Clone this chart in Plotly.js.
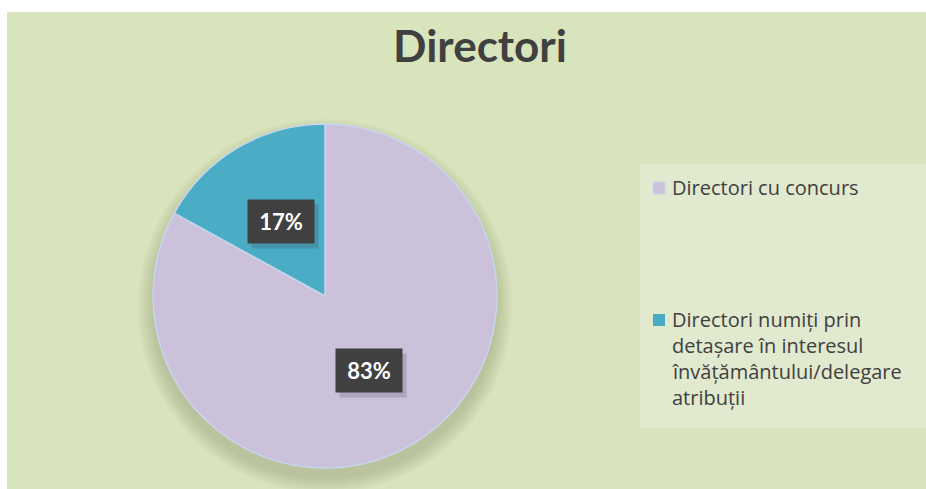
<!DOCTYPE html>
<html>
<head>
<meta charset="utf-8">
<script src="https://cdn.plot.ly/plotly-3.0.1.min.js"></script>
<style>
html,body{margin:0;padding:0;background:#ffffff;}
#chart{width:926px;height:489px;}
</style>
</head>
<body>
<div id="chart"></div>
<script>
// ---- data ----
const categories = ["Directori cu concurs", "Directori numiți prin detașare în interesul învățământului/delegare atribuții"];
const legendLines = [["Directori cu concurs"], ["Directori numiți prin", "detașare în interesul", "învățământului/delegare", "atribuții"]];
const values = [83, 17];
const colors = ["#ccc1da", "#4bacc6"];
const chartTitle = "Directori";

// ---- layout geometry (pixels) ----
const W = 926, H = 489;
const cx = 325, cy = 296, R = 172;
const px = x => x / W;
const py = y => 1 - y / H;

const shapes = [];
// chart background
shapes.push({type:"rect", xref:"paper", yref:"paper", x0:px(7), x1:1, y0:0, y1:py(12),
  fillcolor:"#d8e4bc", line:{width:0}, layer:"below"});
// soft shadow under the pie
for (let i = 0; i < 8; i++) {
  const rr = R + 1 + i * 2;
  const oy = 10;
  shapes.push({type:"circle", xref:"paper", yref:"paper",
    x0:px(cx - rr), x1:px(cx + rr), y0:py(cy + oy + rr), y1:py(cy + oy - rr),
    fillcolor:"rgba(90,110,60,0.03)", line:{width:0}, layer:"below"});
}
// legend box
const lgX0 = 640, lgX1 = 926, lgY0 = 164, lgY1 = 428;
shapes.push({type:"rect", xref:"paper", yref:"paper", x0:px(lgX0), x1:px(lgX1), y0:py(lgY1), y1:py(lgY0),
  fillcolor:"#e1e9cf", line:{width:0}, layer:"below"});

const annotations = [];
// data labels at half radius on each slice's mid angle (clockwise from 12 o'clock)
const total = values.reduce((a, b) => a + b, 0);
let cum = 0;
values.forEach((v, i) => {
  const mid = (cum + v / 2) / total * 2 * Math.PI;
  cum += v;
  const lx = cx + 0.5 * R * Math.sin(mid);
  const ly = cy - 0.5 * R * Math.cos(mid);
  const pct = Math.round(v / total * 100) + "%";
  annotations.push({xref:"paper", yref:"paper", x:px(lx + 4), y:py(ly + 5), text:" ", showarrow:false,
    width:64, height:41, bgcolor:"rgba(60,60,80,0.22)", xanchor:"center", yanchor:"middle"});
  annotations.push({xref:"paper", yref:"paper", x:px(lx), y:py(ly), text:"<b>" + pct + "</b>", showarrow:false,
    width:64, height:41, bgcolor:"#404040", xanchor:"center", yanchor:"middle",
    font:{family:"Lato, 'Open Sans', sans-serif", size:22, color:"#ffffff"}});
});

// manual legend
const legendTops = [187, 319];
const lineGap = 26;
legendLines.forEach((lines, i) => {
  const c = legendTops[i];
  shapes.push({type:"rect", xref:"paper", yref:"paper", x0:px(653), x1:px(665), y0:py(c + 7), y1:py(c - 5),
    fillcolor:colors[i], line:{width:i === 0 ? 1 : 0, color:"#c9d7ec"}});
  lines.forEach((ln, k) => {
    annotations.push({xref:"paper", yref:"paper", x:px(670), y:py(c + k * lineGap), xanchor:"left", yanchor:"middle",
      align:"left", showarrow:false, text:ln,
      font:{family:"'Open Sans', Lato, sans-serif", size:20, color:"#404040"}});
  });
});

const data = [{
  type:"pie",
  labels:categories,
  values:values,
  sort:false,
  direction:"clockwise",
  rotation:0,
  textinfo:"none",
  hoverinfo:"label+percent",
  marker:{colors:colors, line:{color:"#c6d6ec", width:1.5}},
  domain:{x:[px(cx - R), px(cx + R)], y:[py(cy + R), py(cy - R)]},
  showlegend:false
}];

const layout = {
  width:W, height:H,
  margin:{l:0, r:0, t:0, b:0},
  paper_bgcolor:"#ffffff",
  title:{text:"<b>" + chartTitle + "</b>", x:px(480), xanchor:"center", y:py(47), yanchor:"middle",
    font:{family:"Lato, 'Open Sans', sans-serif", size:44, color:"#404040"}},
  shapes:shapes,
  annotations:annotations,
  showlegend:false
};

Plotly.newPlot("chart", data, layout, {displayModeBar:false, staticPlot:true});
</script>
</body>
</html>
